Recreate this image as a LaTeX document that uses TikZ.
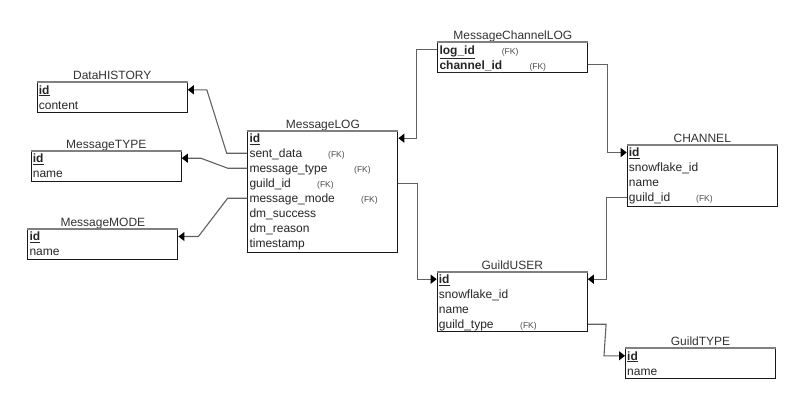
\documentclass[tikz,border=0pt]{standalone}
\usepackage{fontspec}
\setmainfont{Liberation Sans}
\usetikzlibrary{arrows.meta,calc}
\begin{document}
\begin{tikzpicture}[x=1pt,y=-1pt,
  tbl/.style={draw=black!90, line width=1.1pt, rectangle, inner sep=0pt, anchor=north west, minimum width=150pt},
  ttl/.style={font=\fontsize{12}{14}\selectfont, text=black!80, inner sep=0pt, anchor=base},
  row/.style={font=\fontsize{12}{14}\selectfont, text=black!85, inner sep=0pt, anchor=base west, text height=8.6pt, text depth=0pt},
  fk/.style={font=\fontsize{8.5}{10}\selectfont, text=black!70, inner sep=0pt, anchor=base west},
  conn/.style={draw=black!62, line width=1.1pt},
  tip/.style={-{Triangle[length=6pt,width=9pt,color=black]}},
  topline/.style={draw=black!50, line width=1.8pt}]
\useasboundingbox (0,0) rectangle (802,404);
\fill[white] (0,0) rectangle (802,404);

% ---------- tables ----------
\node[tbl, minimum height=30pt] (dh) at (36.7,82.3) {};
\node[ttl] (dh-t) at ($(dh.north)+(0,-2.5)$) {DataHISTORY};
\node[row] (dh-r1) at ($(dh.north west)+(2,11.8)$) {\underline{\textbf{id}}};
\node[row] (dh-r2) at ($(dh.north west)+(2,26.8)$) {content};

\node[tbl, minimum height=30pt] (mt) at (30.7,150.7) {};
\node[ttl] (mt-t) at ($(mt.north)+(0,-2.5)$) {MessageTYPE};
\node[row] (mt-r1) at ($(mt.north west)+(2,11.8)$) {\underline{\textbf{id}}};
\node[row] (mt-r2) at ($(mt.north west)+(2,26.8)$) {name};

\node[tbl, minimum height=30pt] (mm) at (27.3,229) {};
\node[ttl] (mm-t) at ($(mm.north)+(0,-2.5)$) {MessageMODE};
\node[row] (mm-r1) at ($(mm.north west)+(2,11.8)$) {\underline{\textbf{id}}};
\node[row] (mm-r2) at ($(mm.north west)+(2,26.8)$) {name};

\node[tbl, minimum height=121pt] (ml) at (247.3,130.7) {};
\node[ttl] (ml-t) at ($(ml.north)+(0,-2.5)$) {MessageLOG};
\node[row] (ml-r1) at ($(ml.north west)+(2,11.8)$) {\underline{\textbf{id}}};
\node[row] (ml-r2) at ($(ml.north west)+(2,26.8)$) {sent\_data};
\node[row] (ml-r3) at ($(ml.north west)+(2,41.8)$) {message\_type};
\node[row] (ml-r4) at ($(ml.north west)+(2,56.8)$) {guild\_id};
\node[row] (ml-r5) at ($(ml.north west)+(2,71.8)$) {message\_mode};
\node[row] (ml-r6) at ($(ml.north west)+(2,86.8)$) {dm\_success};
\node[row] (ml-r7) at ($(ml.north west)+(2,101.8)$) {dm\_reason};
\node[row] (ml-r8) at ($(ml.north west)+(2,116.8)$) {timestamp};
\node[fk] (ml-f2) at (328,157.5) {(FK)};
\node[fk] (ml-f3) at (354,172.5) {(FK)};
\node[fk] (ml-f4) at (317,187.5) {(FK)};
\node[fk] (ml-f5) at (361,202.5) {(FK)};

\node[tbl, minimum height=30pt] (mcl) at (437.3,42.3) {};
\node[ttl] (mcl-t) at ($(mcl.north)+(0,-2.5)$) {MessageChannelLOG};
\node[row] (mcl-r1) at ($(mcl.north west)+(2,11.8)$) {\underline{\textbf{log\_id}}};
\node[row] (mcl-r2) at ($(mcl.north west)+(2,26.8)$) {\underline{\textbf{channel\_id}}};
\node[fk] (mcl-f1) at (501.7,54.1) {(FK)};
\node[fk] (mcl-f2) at (529.3,69.1) {(FK)};

\node[tbl, minimum height=60.5pt] (ch) at (626.7,145) {};
\node[ttl] (ch-t) at ($(ch.north)+(0,-2.5)$) {CHANNEL};
\node[row] (ch-r1) at ($(ch.north west)+(2,11.8)$) {\underline{\textbf{id}}};
\node[row] (ch-r2) at ($(ch.north west)+(2,26.8)$) {snowflake\_id};
\node[row] (ch-r3) at ($(ch.north west)+(2,41.8)$) {name};
\node[row] (ch-r4) at ($(ch.north west)+(2,56.8)$) {guild\_id};
\node[fk] (ch-f4) at (696,201.8) {(FK)};

\node[tbl, minimum height=59.5pt] (gu) at (436.7,271.7) {};
\node[ttl] (gu-t) at ($(gu.north)+(0,-2.5)$) {GuildUSER};
\node[row] (gu-r1) at ($(gu.north west)+(2,11.8)$) {\underline{\textbf{id}}};
\node[row] (gu-r2) at ($(gu.north west)+(2,26.8)$) {snowflake\_id};
\node[row] (gu-r3) at ($(gu.north west)+(2,41.8)$) {name};
\node[row] (gu-r4) at ($(gu.north west)+(2,56.8)$) {guild\_type};
\node[fk] (gu-f4) at (520,328.5) {(FK)};

\node[tbl, minimum height=30pt] (gt) at (625,348.3) {};
\node[ttl] (gt-t) at ($(gt.north)+(0,-2.5)$) {GuildTYPE};
\node[row] (gt-r1) at ($(gt.north west)+(2,11.8)$) {\underline{\textbf{id}}};
\node[row] (gt-r2) at ($(gt.north west)+(2,26.8)$) {name};

\foreach \n in {dh,mt,mm,ml,mcl,ch,gu,gt}
  \draw[topline] (\n.north west) -- (\n.north east);

% ---------- connectors ----------
\draw[conn,tip] (ml.west |- ml-r2) -- ++(-20.6,0) -- ($(dh.east |- dh-r1)+(19,0)$) -- (dh.east |- dh-r1);
\draw[conn,tip] (ml.west |- ml-r3) -- ++(-19.6,0) -- ($(mt.east |- mt-r1)+(19,0)$) -- (mt.east |- mt-r1);
\draw[conn,tip] (ml.west |- ml-r5) -- ++(-19.6,0) -- ($(mm.east |- mm-r1)+(20,0)$) -- (mm.east |- mm-r1);
\draw[conn,tip] (mcl.west |- mcl-r1) -- ++(-20.6,0) |- (ml.east |- ml-r1);
\draw[conn,tip] (mcl.east |- mcl-r2) -- ++(19,0) |- (ch.west |- ch-r1);
\draw[conn,tip] (ch.west |- ch-r4) -- ++(-20.5,0) |- (gu.east |- gu-r1);
\draw[conn,tip] (ml.east |- ml-r4) -- ++(19,0) |- (gu.west |- gu-r1);
\draw[conn,tip] (gu.east |- gu-r4) -- ++(18.3,0) -- ($(gt.west |- gt-r1)+(-21,0)$) -- (gt.west |- gt-r1);
\end{tikzpicture}
\end{document}
